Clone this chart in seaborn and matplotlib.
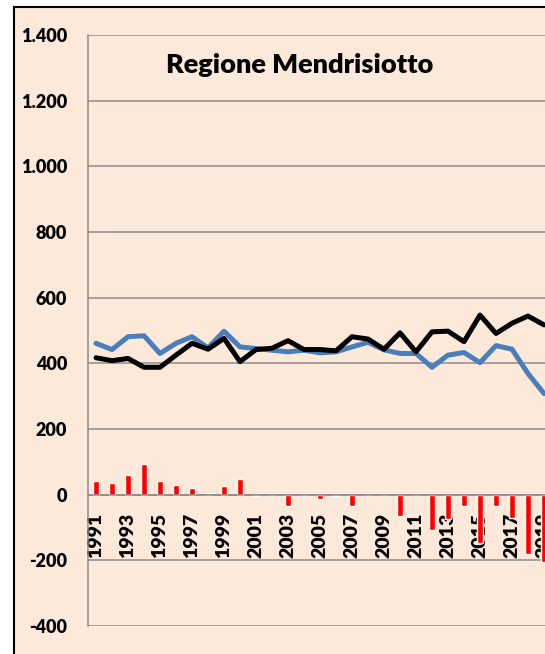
import numpy as np
import pandas as pd
import seaborn as sns
import matplotlib.pyplot as plt
from matplotlib.patches import Rectangle
from matplotlib.ticker import FixedLocator

anni = list(range(1991, 2020))
# linea blu
serie_blu = [461, 442, 481, 484, 430, 461, 481, 447, 498, 450, 445, 440, 435, 440,
             432, 435, 450, 464, 441, 430, 430, 388, 425, 433, 402, 454, 443, 369, 308]
# linea nera
serie_nera = [417, 408, 415, 388, 388, 425, 461, 443, 476, 405, 442, 446, 469, 442,
              442, 438, 481, 474, 443, 493, 435, 496, 498, 466, 547, 491, 522, 544, 517]
# differenza (barre rosse)
differenza = [41, 36, 61, 94, 43, 30, 20, 0, 27, 49, -5, 0, -36, 0,
              -13, -5, -33, 0, -2, -66, 0, -109, -74, -33, -147, -33, -71, -181, -206]
yticks = [-400, -200, 0, 200, 400, 600, 800, 1000, 1200, 1400]
ytick_labels = ['-400', '-200', '0', '200', '400', '600', '800', '1.000', '1.200', '1.400']

df = pd.DataFrame({'anno': anni, 'blu': serie_blu, 'nera': serie_nera, 'diff': differenza})

sns.set_style('white')
plt.rcParams['font.family'] = ['Lato', 'DejaVu Sans']
plt.rcParams['text.color'] = 'black'
plt.rcParams['xtick.color'] = 'black'
plt.rcParams['ytick.color'] = 'black'

sfondo = '#FCE9DA'
grigio = '#8C8C8C'

fig = plt.figure(figsize=(5.45, 6.54), dpi=100)
fig.patch.set_facecolor('white')
fig.add_artist(Rectangle((14 / 545, -0.1), 1.2, 1.1 - 7 / 654, transform=fig.transFigure,
                         facecolor=sfondo, edgecolor='black', linewidth=1.5, zorder=0))

ax = fig.add_axes([88 / 545, 28 / 654, 464 / 545, 591 / 654])
ax.set_facecolor(sfondo)
ax.patch.set_alpha(0)

sns.barplot(data=df, x='anno', y='diff', native_scale=True, width=0.42,
            color='#FF0000', saturation=1, ax=ax, zorder=3)
sns.lineplot(data=df, x='anno', y='blu', color='#4A7EBB', linewidth=3.6, ax=ax, zorder=4)
sns.lineplot(data=df, x='anno', y='nera', color='black', linewidth=3.6, ax=ax, zorder=5)

ax.set_xlim(1990.5, 2019.5)
ax.set_ylim(-400, 1400)
ax.set_yticks(yticks)
ax.set_yticklabels(ytick_labels, fontsize=13, fontweight='heavy', color='black')
ax.yaxis.grid(True, color=grigio, linewidth=1.1)
ax.set_axisbelow(True)

ax.spines['top'].set_visible(False)
ax.spines['right'].set_visible(False)
ax.spines['left'].set_color(grigio)
ax.spines['left'].set_linewidth(1.1)
ax.spines['bottom'].set_position(('data', 0))
ax.spines['bottom'].set_color(grigio)
ax.spines['bottom'].set_linewidth(1.1)
ax.spines['bottom'].set_zorder(6)

ax.set_xticks(anni[::2])
ax.set_xticklabels([str(a) for a in anni[::2]], rotation=90, fontsize=14,
                   fontweight='heavy', color='black')
ax.xaxis.set_minor_locator(FixedLocator([a - 0.5 for a in anni] + [anni[-1] + 0.5]))
ax.tick_params(axis='x', which='major', length=0, pad=13)
ax.tick_params(axis='x', which='minor', length=6, width=1.1, color=grigio, direction='out')
ax.tick_params(axis='y', length=6, width=1.1, color=grigio, labelcolor='black',
               direction='out', pad=9)
for lab in ax.get_xticklabels():
    lab.set_zorder(10)

ax.set_xlabel('')
ax.set_ylabel('')

fig.text(300 / 545, 1 - 65 / 654, 'Regione Mendrisiotto', ha='center', va='center',
         fontsize=19.5, fontweight='heavy', color='black')

fig.savefig('out.png', dpi=100, facecolor='white')
